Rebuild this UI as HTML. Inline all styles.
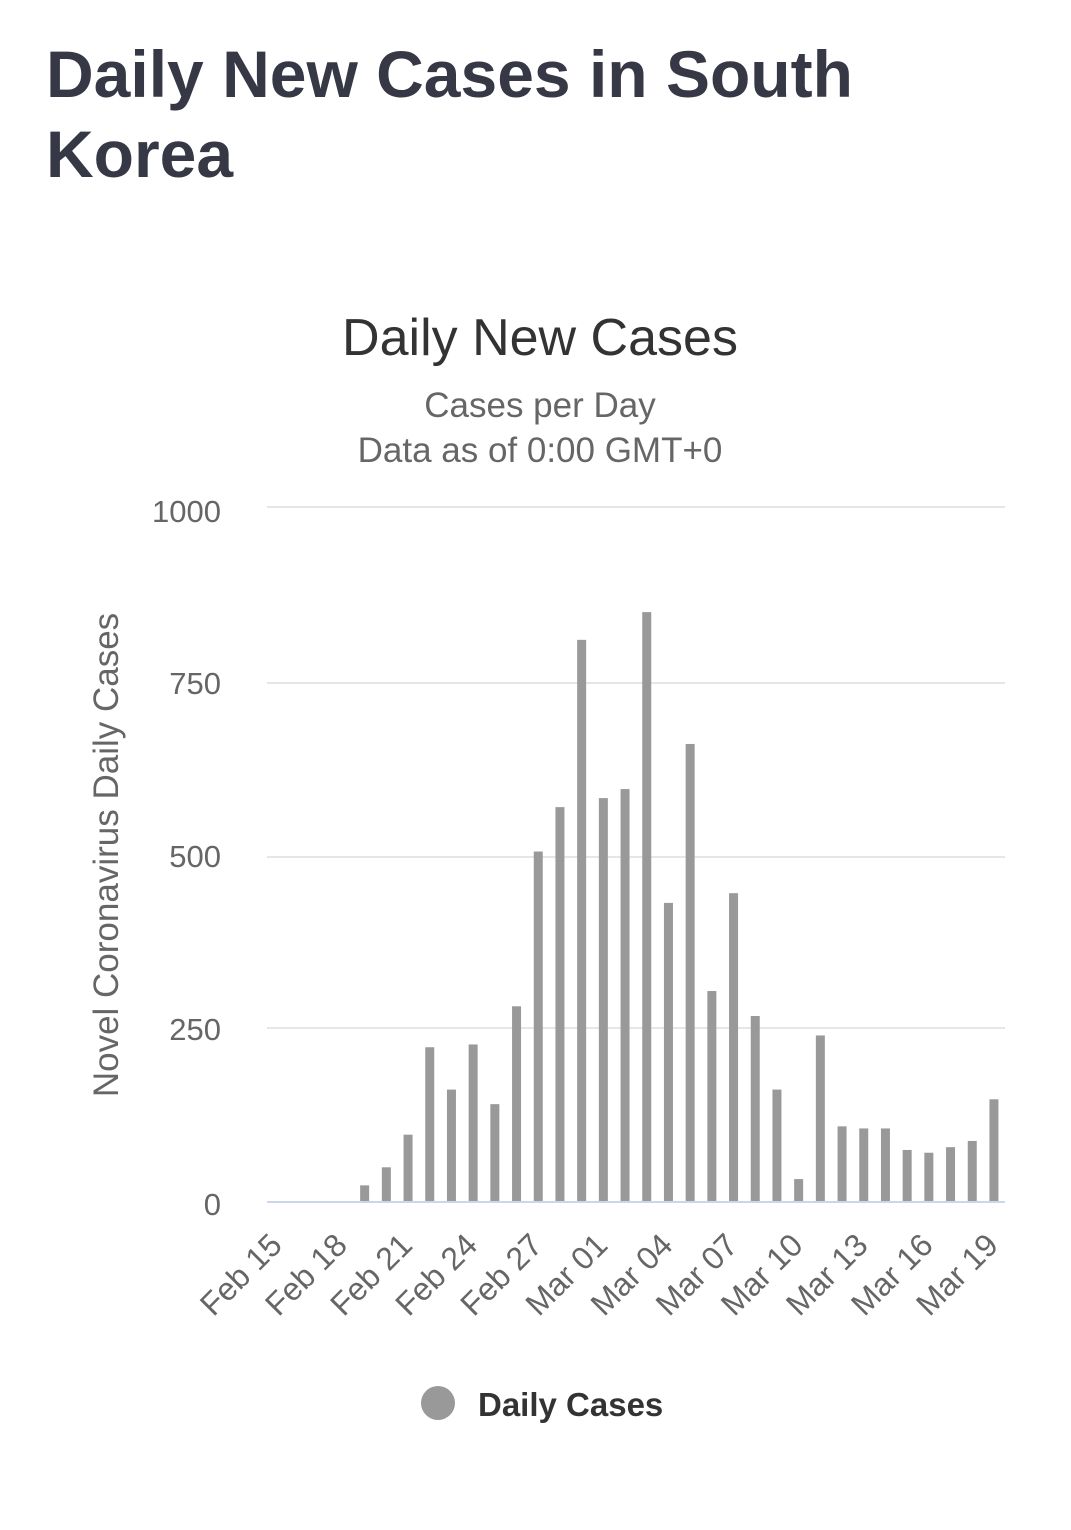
<!DOCTYPE html>
<html><head><meta charset="utf-8"><style>
body{margin:0;background:#fff;width:1071px;height:1530px;overflow:hidden;font-family:"Liberation Sans",sans-serif}
h1{position:absolute;left:46px;top:34px;margin:0;font-size:66px;line-height:80px;font-weight:bold;color:#363945;letter-spacing:0;width:1000px}
</style></head><body>
<h1>Daily New Cases in South Korea</h1>
<svg width="1071" height="1530" style="position:absolute;left:0;top:0" font-family="Liberation Sans, sans-serif">
<text x="540" y="355" text-anchor="middle" font-size="52" fill="#333">Daily New Cases</text>
<text x="540" y="417" text-anchor="middle" font-size="35" fill="#666">Cases per Day</text>
<text x="540" y="462" text-anchor="middle" font-size="35" fill="#666">Data as of 0:00 GMT+0</text>
<g stroke="#e6e6e6" stroke-width="2">
<line x1="267" x2="1005" y1="507" y2="507"/><line x1="267" x2="1005" y1="683" y2="683"/>
<line x1="267" x2="1005" y1="857" y2="857"/><line x1="267" x2="1005" y1="1028" y2="1028"/>
</g>
<g font-size="31" fill="#666" text-anchor="end">
<text x="221" y="522">1000</text><text x="221" y="694">750</text><text x="221" y="867">500</text><text x="221" y="1040">250</text><text x="221" y="1215">0</text>
</g>
<text transform="translate(118,855) rotate(-90)" text-anchor="middle" font-size="35" fill="#666">Novel Coronavirus Daily Cases</text>
<g fill="#999" id="bars"></g>
<line x1="267" x2="1005" y1="1202" y2="1202" stroke="#ccd6eb" stroke-width="2"/>
<g font-size="32" fill="#666" text-anchor="end" id="lab"></g>
<circle cx="438" cy="1403" r="17" fill="#999"/>
<text x="478" y="1416" font-size="33" font-weight="bold" fill="#333">Daily Cases</text>
</svg>
<script>
var v=[24,50,97,223,162,227,141,282,505,569,810,582,595,850,431,660,304,445,268,162,33,240,109,106,106,75,71,79,88,148];
var g=document.getElementById('bars'),s='';
var bw=21.7;
for(var i=0;i<v.length;i++){var c=267+bw*(i+4)+bw/2;var h=v[i]*0.694;s+='<rect x="'+(c-4.5)+'" y="'+(1202-h)+'" width="9" height="'+h+'"/>';}
g.innerHTML=s;
var L=['Feb 15','Feb 18','Feb 21','Feb 24','Feb 27','Mar 01','Mar 04','Mar 07','Mar 10','Mar 13','Mar 16','Mar 19'],t='';
for(var j=0;j<L.length;j++){var x=267+bw*(j*3)+bw/2+6;t+='<text transform="translate('+x+',1247) rotate(-45)">'+L[j]+'</text>';}
document.getElementById('lab').innerHTML=t;
</script>
</body></html>
